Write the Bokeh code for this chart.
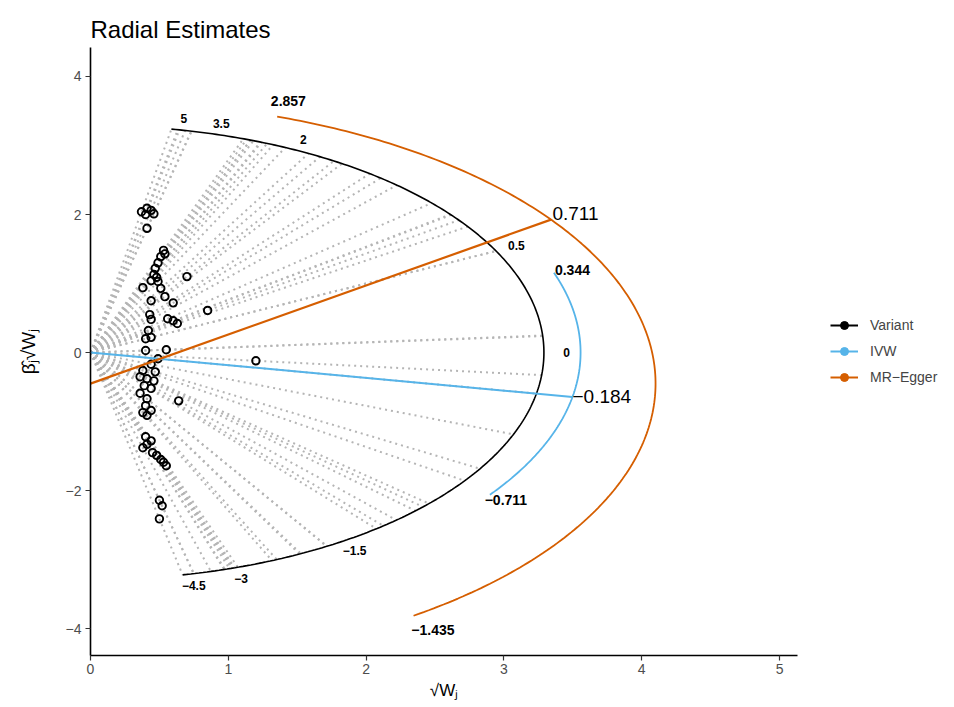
import numpy as np
from bokeh.plotting import figure
from bokeh.models import Range1d, FixedTicker, Legend, LegendItem
from bokeh.core.properties import value
from bokeh.embed import file_html
from bokeh.resources import INLINE

# ---- data ----
# x = sqrt(W_j), y = beta_j * sqrt(W_j)
variant_w = [0.37, 0.41, 0.44, 0.46, 0.40, 0.41, 0.53, 0.54, 0.51, 0.49,
             0.47, 0.46, 0.48, 0.44, 0.49, 0.38, 0.70, 0.51, 0.44, 0.54,
             0.60, 0.43, 0.44, 0.56, 0.60, 0.63, 0.85, 0.42, 0.44, 0.40,
             0.40, 0.55, 0.49, 1.20, 0.44, 0.38, 0.47, 0.36, 0.41, 0.46,
             0.39, 0.44, 0.36, 0.41, 0.64, 0.40, 0.44, 0.38, 0.41, 0.40,
             0.44, 0.38, 0.41, 0.45, 0.48, 0.51, 0.53, 0.55, 0.50, 0.52,
             0.50]
variant_b = [2.04, 2.09, 2.06, 2.01, 2.00, 1.80, 1.48, 1.43, 1.39, 1.30,
             1.22, 1.13, 1.09, 1.04, 1.03, 0.94, 1.10, 0.93, 0.75, 0.81,
             0.72, 0.55, 0.48, 0.49, 0.46, 0.42, 0.61, 0.32, 0.22, 0.20,
             0.03, 0.04, -0.09, -0.12, -0.17, -0.26, -0.28, -0.35, -0.38, -0.41,
             -0.48, -0.52, -0.59, -0.67, -0.70, -0.77, -0.84, -0.87, -0.91, -1.22,
             -1.28, -1.38, -1.33, -1.45, -1.49, -1.55, -1.59, -1.64, -2.14, -2.22,
             -2.41]

scale_ticks = [5, 3.5, 2, 0.5, 0, -1.5, -3, -4.5]

ivw_est = -0.184
ivw_lo = -0.711
ivw_hi = 0.344

egger_est = 0.711
egger_lo = -1.435
egger_hi = 2.857
egger_int = -0.45

x_ticks = [0, 1, 2, 3, 4, 5]
y_ticks = [-4, -2, 0, 2, 4]

# ---- styling ----
R_SCALE = 3.29
R_IVW = 3.556
R_EGGER = 4.10
IVW_COL = "#56B4E9"
EGG_COL = "#D55E00"
FONT = "Liberation Sans"


def fmt(v, nd=None):
    s = f"{v:.{nd}f}" if nd is not None else f"{v:g}"
    return s.replace("-", "\u2212")


p = figure(frame_width=707, frame_height=608, output_backend="svg",
           toolbar_location=None, x_range=Range1d(0, 5.13),
           y_range=Range1d(-4.39, 4.42), min_border_left=90,
           min_border_top=47, min_border_right=149, min_border_bottom=44)
p.background_fill_color = "white"
p.border_fill_color = "white"
p.outline_line_color = None
p.grid.visible = False

p.title.text = "Radial Estimates"
p.title.text_font = FONT
p.title.text_font_size = "24px"
p.title.text_font_style = "normal"
p.title.text_color = "black"
p.title.align = "left"
p.title.offset = 0

for ax, ticks in ((p.xaxis[0], x_ticks), (p.yaxis[0], y_ticks)):
    ax.ticker = FixedTicker(ticks=ticks)
    ax.major_label_overrides = {t: fmt(t) for t in ticks}
    ax.minor_tick_line_color = None
    ax.major_tick_in = 0
    ax.major_tick_out = 5
    ax.major_tick_line_color = "#333333"
    ax.major_tick_line_width = 1.2
    ax.axis_line_color = "black"
    ax.axis_line_width = 1.6
    ax.major_label_text_font = FONT
    ax.major_label_text_font_size = "14px"
    ax.major_label_text_color = "#4d4d4d"
    ax.axis_label_text_font = FONT
    ax.axis_label_text_font_style = "normal"
    ax.axis_label_text_color = "black"

p.xaxis.axis_label = "\u221aW\u2c7c"
p.yaxis.axis_label = "\u03b2\u0302\u2c7c\u221aW\u2c7c"
p.xaxis.axis_label_text_font_size = "17px"
p.yaxis.axis_label_text_font_size = "19px"
p.xaxis.major_label_standoff = 3
p.xaxis.axis_label_standoff = 4
p.yaxis.major_label_standoff = 4
p.yaxis.axis_label_standoff = 24

w = np.array(variant_w)
b = np.array(variant_b)
th = np.arctan2(b, w)

# dotted lines of each variant to the scale arc
p.segment(x0=np.zeros_like(w), y0=np.zeros_like(w),
          x1=R_SCALE * np.cos(th), y1=R_SCALE * np.sin(th),
          line_color="#b5b5b5", line_width=2, line_dash="2 4")

# scale arc
arc_t = np.linspace(th.min(), th.max(), 300)
p.line(R_SCALE * np.cos(arc_t), R_SCALE * np.sin(arc_t), line_color="black",
       line_width=1.6)
st = np.arctan(np.array(scale_ticks, dtype=float))
p.text(x=1.05 * R_SCALE * np.cos(st), y=1.05 * R_SCALE * np.sin(st),
       text=[fmt(t) for t in scale_ticks], text_font=value(FONT),
       text_font_size="12px", text_font_style="bold", text_color="black",
       text_align="center", text_baseline="middle")

# variants
p.scatter(w, b, marker="circle", size=7.5, fill_color=None, line_color="black",
          line_width=1.9)

# IVW
ivw_t = np.linspace(np.arctan(ivw_lo), np.arctan(ivw_hi), 200)
p.line(R_IVW * np.cos(ivw_t), R_IVW * np.sin(ivw_t), line_color=IVW_COL,
       line_width=1.8)
a_ivw = np.arctan(ivw_est)
p.line([0, R_IVW * np.cos(a_ivw)], [0, R_IVW * np.sin(a_ivw)],
       line_color=IVW_COL, line_width=2)
ci_t = np.arctan(np.array([ivw_hi, ivw_lo]))
p.text(x=1.04 * R_IVW * np.cos(ci_t), y=1.04 * R_IVW * np.sin(ci_t),
       text=[fmt(ivw_hi, 3), fmt(ivw_lo, 3)], text_font=value(FONT),
       text_font_size="14px", text_font_style="bold", text_color="black",
       text_align="center", text_baseline="middle")
p.text(x=[R_IVW * np.cos(a_ivw)], y=[R_IVW * np.sin(a_ivw)],
       text=[fmt(ivw_est, 3)], text_font=value(FONT), text_font_size="19px",
       text_color="black", text_align="left", text_baseline="middle")

# MR-Egger
egg_t = np.linspace(np.arctan(egger_lo), np.arctan(egger_hi), 200)
p.line(R_EGGER * np.cos(egg_t), egger_int + R_EGGER * np.sin(egg_t),
       line_color=EGG_COL, line_width=1.8)
a_egg = np.arctan(egger_est)
ex, ey = R_EGGER * np.cos(a_egg), egger_int + R_EGGER * np.sin(a_egg)
p.line([0, ex], [egger_int, ey], line_color=EGG_COL, line_width=2.2)
eci_t = np.arctan(np.array([egger_hi, egger_lo]))
p.text(x=1.06 * R_EGGER * np.cos(eci_t),
       y=egger_int + 1.06 * R_EGGER * np.sin(eci_t),
       text=[fmt(egger_hi, 3), fmt(egger_lo, 3)], text_font=value(FONT),
       text_font_size="14px", text_font_style="bold", text_color="black",
       text_align="center", text_baseline="middle")
p.text(x=[ex + 0.01], y=[ey], text=[fmt(egger_est, 3)], text_font=value(FONT),
       text_font_size="19px", text_color="black", text_align="left",
       text_baseline="bottom")

# legend (dummy renderers)
items = []
for name, col in (("Variant", "black"), ("IVW", IVW_COL), ("MR\u2212Egger", EGG_COL)):
    lr = p.line([np.nan], [np.nan], line_color=col, line_width=2)
    sr = p.scatter([np.nan], [np.nan], marker="circle", size=7, fill_color=col,
                   line_color=col)
    items.append(LegendItem(label=name, renderers=[lr, sr]))
legend = Legend(items=items, location=(33, 268), glyph_width=28, glyph_height=20,
                label_standoff=12, spacing=6, padding=0, margin=0,
                label_text_font=FONT, label_text_font_size="14px",
                border_line_alpha=0, background_fill_alpha=0)
p.add_layout(legend, "right")

open("out.html", "w").write(file_html(p, INLINE))
